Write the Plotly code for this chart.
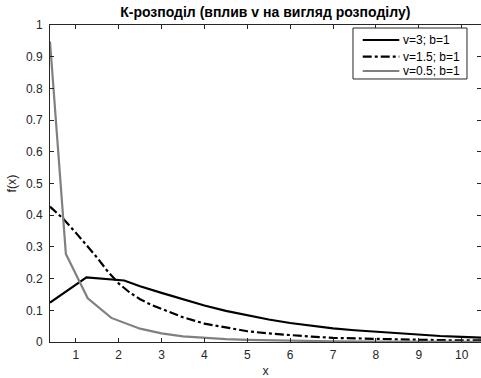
import plotly.graph_objects as go

# Series
x_v3 = [0.4, 1.25, 2.13, 2.5, 3, 3.5, 4, 4.5, 5, 5.5, 6, 6.5, 7, 7.5, 8, 8.5, 9, 9.5, 10, 10.45]
y_v3 = [0.124, 0.204, 0.194, 0.176, 0.155, 0.134, 0.115, 0.098, 0.084, 0.071, 0.060, 0.051, 0.043, 0.037, 0.032, 0.027, 0.022, 0.019, 0.016, 0.014]

x_v15 = [0.4, 0.7, 1, 1.25, 1.5, 1.75, 2, 2.25, 2.5, 2.75, 3, 3.5, 4, 4.5, 5, 5.5, 6, 6.5, 7, 8, 9, 10, 10.45]
y_v15 = [0.427, 0.39, 0.345, 0.305, 0.266, 0.222, 0.185, 0.157, 0.135, 0.118, 0.104, 0.078, 0.058, 0.045, 0.034, 0.027, 0.021, 0.017, 0.013, 0.009, 0.007, 0.005, 0.005]

x_v05 = [0.4, 0.77, 1.28, 1.83, 2.5, 3, 3.5, 4, 4.5, 5, 6, 7, 8, 9, 10.45]
y_v05 = [0.948, 0.278, 0.138, 0.076, 0.042, 0.027, 0.018, 0.013, 0.009, 0.007, 0.004, 0.002, 0.0015, 0.001, 0.0005]

names = ["v=3; b=1", "v=1.5; b=1", "v=0.5; b=1"]
colors = ["black", "black", "#808080"]
dashes = ["solid", "dashdot", "solid"]
x_ticks = [1, 2, 3, 4, 5, 6, 7, 8, 9, 10]
y_ticks = [0, 0.1, 0.2, 0.3, 0.4, 0.5, 0.6, 0.7, 0.8, 0.9, 1]

FONT = "Liberation Sans, Arial, Helvetica, sans-serif"
AX = "#262626"

fig = go.Figure()
for xs, ys, nm, c, d in zip([x_v3, x_v15, x_v05], [y_v3, y_v15, y_v05], names, colors, dashes):
    fig.add_trace(go.Scatter(x=xs, y=ys, mode="lines", name=nm,
                             line=dict(color=c, width=2.2, dash=d)))

# Legend drawn in paper coordinates (MATLAB-style compact box)
leg_x0, leg_x1, leg_y0, leg_y1 = 0.703, 0.9675, 0.8297, 0.9905
row_y = [0.9527, 0.9001, 0.8549]
shapes = [dict(type="rect", xref="paper", yref="paper", x0=leg_x0, x1=leg_x1,
               y0=leg_y0, y1=leg_y1, line=dict(color=AX, width=1), fillcolor="white",
               layer="above")]
annotations = []
for nm, c, d, ry in zip(names, colors, dashes, row_y):
    shapes.append(dict(type="line", xref="paper", yref="paper", x0=0.7256, x1=0.8104,
                       y0=ry, y1=ry, line=dict(color=c, width=2.2, dash=d), layer="above"))
    annotations.append(dict(xref="paper", yref="paper", x=0.8155, y=ry, text=nm,
                            showarrow=False, xanchor="left", yanchor="middle",
                            font=dict(family=FONT, size=12, color="black")))

fig.update_layout(
    width=481, height=378,
    margin=dict(l=50, r=0, t=25, b=36),
    paper_bgcolor="white", plot_bgcolor="white",
    font=dict(family=FONT, size=12, color=AX),
    title=dict(text="<b>К-розподіл (вплив v на вигляд розподілу)</b>",
               x=0.5515, xanchor="center", y=0.968, yanchor="middle",
               font=dict(family=FONT, size=14, color="black")),
    showlegend=False,
    shapes=shapes,
    annotations=annotations,
)
fig.update_xaxes(range=[0.4, 10.45], tickvals=x_ticks, ticks="inside", ticklen=4,
                 tickcolor=AX, showline=True, linecolor=AX, linewidth=1,
                 mirror="ticks", showgrid=False, zeroline=False, ticklabelstandoff=2,
                 title=dict(text="x", standoff=8, font=dict(size=12.5)))
fig.update_yaxes(range=[0, 1], tickvals=y_ticks, ticks="inside", ticklen=4,
                 tickcolor=AX, showline=True, linecolor=AX, linewidth=1,
                 mirror="ticks", showgrid=False, zeroline=False, ticklabelstandoff=4,
                 title=dict(text="f(x)", standoff=6, font=dict(size=12.5)))

fig.write_html("out.html")
